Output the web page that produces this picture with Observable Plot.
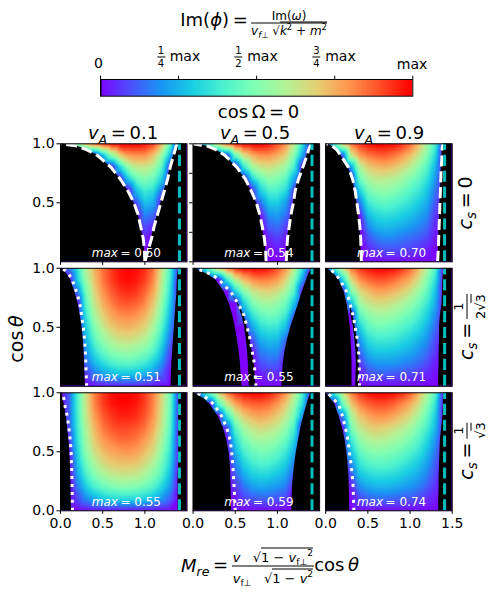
<!DOCTYPE html>
<html>
<head>
<meta charset="utf-8">
<script src="https://cdn.jsdelivr.net/npm/d3@7"></script>
<script src="https://cdn.jsdelivr.net/npm/@observablehq/plot@0.6"></script>
<style>
html,body{margin:0;padding:0;background:#fff;}
#page{position:relative;width:494px;height:595px;overflow:hidden;font-family:"DejaVu Sans",sans-serif;color:#000;}
#page svg{position:absolute;left:0;top:0;overflow:visible;font-family:"DejaVu Sans",sans-serif;}
.t{position:absolute;white-space:nowrap;line-height:1;transform:translate(-50%,-50%);}
.f{display:inline-flex;flex-direction:column;align-items:center;vertical-align:middle;line-height:1;}
.f>span:first-child{border-bottom:1px solid #000;padding:0 1px 1px;width:100%;text-align:center;box-sizing:border-box;}
.f>span:last-child{padding-top:1px;}
.r{border-top:1px solid #000;padding-top:1px;}
sub,sup{font-size:70%;line-height:0;}
</style>
</head>
<body>
<div id="page"></div>
<script>
// Axis samples
const gridX = [0,.1,.2,.3,.4,.5,.6,.7,.8,.9,1,1.1,1.2,1.3,1.4,1.5];
const gridY = [1,.9,.8,.7,.6,.5,.4,.3,.2,.1,0];
const cosLevels = [1,.98,.95,.9,.8,.7,.6,.5,.4,.3,.2,.1,0];
const vAValues = [0.1,0.5,0.9];
const csLabels = ["0","1/(2√3)","1/√3"];
const maxLabels = ["= 0.50","= 0.54","= 0.70","= 0.51","= 0.55","= 0.71","= 0.55","= 0.59","= 0.74"];

// Fraction of panel maximum (percent), columns follow gridX, rows follow gridY
const field00 = [
[0,30,55,72,85,93,98,100,100,100,98,92,75,45,0,0],
[0,0,0,0,0,25,50,68,78,80,80,72,55,25,0,0],
[0,0,0,0,0,0,0,30,52,62,63,58,42,5,0,0],
[0,0,0,0,0,0,0,0,28,45,50,46,30,0,0,0],
[0,0,0,0,0,0,0,0,0,27,38,34,14,0,0,0],
[0,0,0,0,0,0,0,0,0,10,28,24,0,0,0,0],
[0,0,0,0,0,0,0,0,0,0,18,14,0,0,0,0],
[0,0,0,0,0,0,0,0,0,0,10,5,0,0,0,0],
[0,0,0,0,0,0,0,0,0,0,4,0,0,0,0,0],
[0,0,0,0,0,0,0,0,0,0,1,0,0,0,0,0],
[0,0,0,0,0,0,0,0,0,0,0,0,0,0,0,0]];
const field01 = [
[0,25,48,68,85,95,99,100,100,97,90,80,62,35,3,0],
[0,0,0,0,5,45,65,75,80,80,76,68,50,22,0,0],
[0,0,0,0,0,0,35,55,63,65,62,55,38,0,0,0],
[0,0,0,0,0,0,0,30,45,52,50,43,22,0,0,0],
[0,0,0,0,0,0,0,5,30,40,40,33,5,0,0,0],
[0,0,0,0,0,0,0,0,15,30,30,22,0,0,0,0],
[0,0,0,0,0,0,0,0,3,20,22,15,0,0,0,0],
[0,0,0,0,0,0,0,0,0,12,15,8,0,0,0,0],
[0,0,0,0,0,0,0,0,0,5,8,3,0,0,0,0],
[0,0,0,0,0,0,0,0,0,1,3,0,0,0,0,0],
[0,0,0,0,0,0,0,0,0,0,0,0,0,0,0,0]];
const field02 = [
[0,40,68,85,93,98,100,100,99,95,87,74,58,40,0,0],
[0,0,10,62,78,84,87,88,85,80,73,63,50,32,0,0],
[0,0,0,20,58,69,73,74,72,67,61,52,42,25,0,0],
[0,0,0,0,45,58,62,62,60,56,50,44,35,20,0,0],
[0,0,0,0,30,47,52,53,51,47,42,37,29,15,0,0],
[0,0,0,0,15,37,42,44,42,39,35,30,24,11,0,0],
[0,0,0,0,3,27,33,35,34,31,28,24,19,7,0,0],
[0,0,0,0,0,18,25,27,26,24,21,18,14,5,0,0],
[0,0,0,0,0,10,16,18,18,16,14,12,9,3,0,0],
[0,0,0,0,0,4,8,10,10,9,8,6,4,1,0,0],
[0,0,0,0,0,1,1,1,1,1,1,1,1,0,0,0]];
const field10 = [
[0,15,35,60,75,85,93,98,100,99,95,85,65,40,5,0],
[0,0,30,55,72,84,92,97,99,97,92,82,62,38,0,0],
[0,0,15,48,68,80,88,93,95,93,87,77,58,34,0,0],
[0,0,0,42,63,75,83,88,89,87,82,71,53,30,0,0],
[0,0,0,36,57,69,77,81,82,80,75,65,48,25,0,0],
[0,0,0,30,50,62,70,74,75,73,68,58,42,20,0,0],
[0,0,0,25,43,54,61,65,66,64,60,50,35,15,0,0],
[0,0,0,20,35,45,52,55,56,54,50,42,28,9,0,0],
[0,0,0,14,26,34,40,43,44,42,38,31,20,5,0,0],
[0,0,0,7,15,21,25,28,28,27,24,20,12,2,0,0],
[0,0,0,0,2,3,4,4,5,4,4,3,2,0,0,0]];
const field11 = [
[0,25,48,68,84,94,99,100,100,97,90,80,62,35,3,0],
[0,0,0,0,35,60,73,80,83,82,78,68,50,20,0,0],
[0,0,0,0,0,30,50,62,67,68,65,57,40,0,0,0],
[0,0,0,0,0,0,30,48,55,57,54,46,27,0,0,0],
[0,0,0,0,0,0,15,35,44,47,45,37,12,0,0,0],
[0,0,0,0,0,0,0,22,34,37,36,27,0,0,0,0],
[0,0,0,0,0,0,0,10,25,28,27,15,0,0,0,0],
[0,0,0,0,0,0,0,3,17,20,20,7,0,0,0,0],
[0,0,0,0,0,0,0,0,10,13,12,0,0,0,0,0],
[0,0,0,0,0,0,0,0,4,6,5,0,0,0,0,0],
[0,0,0,0,0,0,0,0,0,1,1,0,0,0,0,0]];
const field12 = [
[0,38,65,84,93,98,100,100,99,94,87,75,59,41,2,0],
[0,0,30,66,80,86,89,89,86,81,75,65,51,34,1,0],
[0,0,0,48,66,73,77,77,74,70,64,55,44,28,0,0],
[0,0,0,25,55,63,66,66,63,59,54,47,37,24,0,0],
[0,0,0,0,42,52,56,56,54,50,46,39,31,18,0,0],
[0,0,0,0,30,43,47,47,45,42,38,33,25,14,0,0],
[0,0,0,0,20,34,38,38,37,34,31,26,20,10,0,0],
[0,0,0,0,13,26,30,30,29,27,24,20,15,7,0,0],
[0,0,0,0,7,17,21,21,21,19,17,14,10,4,0,0],
[0,0,0,0,3,9,11,12,11,10,9,7,5,2,0,0],
[0,0,0,0,0,1,1,1,1,1,1,1,0,0,0,0]];
const field20 = [
[0,12,40,65,83,93,98,100,100,98,93,83,68,48,5,0],
[0,12,40,64,82,92,97,99,99,97,92,82,67,47,5,0],
[0,12,39,62,78,88,93,96,96,94,89,80,65,45,4,0],
[0,10,37,59,74,84,89,91,91,89,85,76,62,43,3,0],
[0,5,35,56,70,79,83,86,86,84,79,71,58,39,2,0],
[0,2,31,52,65,73,77,79,80,78,73,66,53,36,2,0],
[0,0,27,46,58,66,70,72,72,71,66,59,47,32,2,0],
[0,0,22,39,50,57,61,63,63,62,58,51,41,27,1,0],
[0,0,16,30,39,45,49,51,51,50,46,41,32,21,1,0],
[0,0,9,18,24,29,32,33,33,32,30,26,20,12,0,0],
[0,0,0,1,2,2,2,2,2,2,2,2,2,1,0,0]];
const field21 = [
[0,25,48,68,84,94,99,100,100,97,90,80,63,40,3,0],
[0,0,0,40,62,76,84,87,87,85,79,70,55,32,0,0],
[0,0,0,0,35,58,70,75,77,75,70,62,47,20,0,0],
[0,0,0,0,8,42,57,64,67,65,61,53,39,0,0,0],
[0,0,0,0,3,32,47,55,57,56,52,45,31,0,0,0],
[0,0,0,0,0,25,39,46,49,48,44,37,24,0,0,0],
[0,0,0,0,0,18,31,38,41,40,36,30,17,0,0,0],
[0,0,0,0,0,12,23,30,32,31,28,23,10,0,0,0],
[0,0,0,0,0,7,15,21,23,22,20,16,3,0,0,0],
[0,0,0,0,0,3,8,11,12,12,10,8,0,0,0,0],
[0,0,0,0,0,1,1,1,1,1,1,1,0,0,0,0]];
const field22 = [
[0,38,64,83,93,98,100,100,99,95,88,75,60,42,2,0],
[0,0,45,70,82,87,90,90,87,82,76,66,52,35,1,0],
[0,0,15,57,71,77,80,80,77,72,66,57,45,30,0,0],
[0,0,2,48,62,68,70,69,66,62,57,49,39,26,0,0],
[0,0,0,36,53,59,61,60,57,54,49,42,33,20,0,0],
[0,0,0,27,44,50,52,51,49,46,41,36,27,16,0,0],
[0,0,0,18,36,41,43,43,41,38,34,29,22,12,0,0],
[0,0,0,10,28,32,34,34,33,30,27,23,17,9,0,0],
[0,0,0,4,18,23,25,25,24,22,20,17,12,6,0,0],
[0,0,0,1,9,12,14,14,13,12,11,9,6,3,0,0],
[0,0,0,0,1,1,1,1,1,1,1,1,1,1,0,0]];

// White dashed/dotted critical curves, following cosLevels
const curve00 = [0,.2,.31,.44,.6,.71,.8,.87,.92,.95,.98,.995,1];
const curve01 = [0,.17,.27,.38,.52,.62,.69,.75,.79,.82,.845,.86,.866];
const curve02 = [.01,.08,.13,.18,.27,.32,.35,.37,.39,.405,.415,.42,.423];
const curve10 = [0,.06,.1,.14,.19,.23,.25,.27,.285,.295,.3,.305,.31];
const curve11 = [.04,.1,.22,.31,.447,.535,.605,.64,.675,.7,.725,.735,.745];
const curve12 = [.03,.07,.12,.17,.25,.29,.325,.35,.375,.39,.397,.4,.4];
const curve20 = [.01,.02,.04,.05,.08,.1,.115,.126,.13,.135,.138,.14,.142];
const curve21 = [.03,.1,.17,.25,.34,.4,.44,.457,.47,.478,.487,.493,.5];
const curve22 = [.01,.05,.09,.154,.2,.235,.265,.28,.3,.315,.326,.33,.335];

// Right-hand dashed curves of the top row
const rightCurve00 = [1.39,1.37,1.36,1.34,1.3,1.27,1.23,1.19,1.15,1.11,1.08,1.04,1];
const rightCurve01 = [1.4,1.39,1.37,1.35,1.3,1.25,1.21,1.19,1.16,1.14,1.12,1.11,1.105];
const rightCurve02 = [1.39,1.385,1.38,1.38,1.37,1.365,1.36,1.355,1.35,1.345,1.34,1.335,1.327];

// Black region edges (no instability), following cosLevels
const leftEdge00 = curve00, leftEdge01 = curve01, leftEdge02 = curve02;
const leftEdge10 = [0,.04,.08,.12,.17,.21,.235,.255,.27,.28,.285,.29,.296];
const leftEdge11 = [.03,.08,.17,.27,.37,.43,.47,.5,.525,.545,.56,.57,.58];
const leftEdge12 = [.02,.05,.1,.16,.22,.253,.275,.292,.3,.308,.312,.312,.312];
const leftEdge20 = [.015,.025,.03,.045,.07,.085,.1,.11,.118,.122,.125,.128,.13];
const leftEdge21 = [.01,.06,.13,.2,.3,.36,.4,.425,.44,.447,.45,.453,.455];
const leftEdge22 = [0,.03,.06,.11,.16,.2,.23,.25,.265,.275,.28,.283,.285];
const rightEdge00 = rightCurve00, rightEdge01 = rightCurve01, rightEdge02 = rightCurve02;
const rightEdge10 = [1.4,1.395,1.39,1.385,1.38,1.37,1.36,1.35,1.34,1.33,1.32,1.315,1.31];
const rightEdge11 = [1.4,1.39,1.37,1.345,1.295,1.25,1.205,1.158,1.12,1.09,1.07,1.06,1.052];
const rightEdge12 = [1.4,1.4,1.395,1.39,1.385,1.38,1.36,1.35,1.35,1.345,1.345,1.34,1.34];
const rightEdge20 = [1.405,1.405,1.405,1.4,1.4,1.4,1.4,1.4,1.4,1.395,1.395,1.395,1.395];
const rightEdge21 = [1.4,1.385,1.37,1.35,1.31,1.277,1.25,1.225,1.205,1.19,1.178,1.172,1.17];
const rightEdge22 = [1.4,1.4,1.395,1.395,1.39,1.375,1.36,1.355,1.35,1.345,1.345,1.34,1.34];
// Start of the thin black sliver between the purple band and the dotted curve
const sliver11 = [null,null,null,null,.447,.525,.58,.61,.63,.645,.655,.66,.665];
const sliver12 = [null,null,null,null,null,.29,.3,.33,.345,.358,.364,.36,.356];

const cyanLine = [1.41];
const rainbowStops = [0,.1,.2,.3,.4,.5,.6,.7,.8,.9,1];
const rainbowHex = ["#8000ff","#4d4ffc","#1a96f3","#1acee3","#4df2ce","#80ffb4","#b3f296","#e6ce74","#ff964f","#ff4f28","#ff0000"];
const colorbarTicks = [0,.25,.5,.75,1];

const fields = [[field00,field01,field02],[field10,field11,field12],[field20,field21,field22]];
const curves = [[curve00,curve01,curve02],[curve10,curve11,curve12],[curve20,curve21,curve22]];
const lefts = [[leftEdge00,leftEdge01,leftEdge02],[leftEdge10,leftEdge11,leftEdge12],[leftEdge20,leftEdge21,leftEdge22]];
const rights = [[rightEdge00,rightEdge01,rightEdge02],[rightEdge10,rightEdge11,rightEdge12],[rightEdge20,rightEdge21,rightEdge22]];
const rightCurves = [rightCurve00,rightCurve01,rightCurve02];
const slivers = {"1,1":sliver11,"1,2":sliver12};

const cells=[], edges=[], rightLines=[], sliverRows=[];
for (let r=0;r<3;r++) for (let c=0;c<3;c++) {
  const col=vAValues[c], row=csLabels[r];
  fields[r][c].forEach((vals,i)=>vals.forEach((v,j)=>cells.push({x:gridX[j],y:gridY[i],v:v/100,col,row})));
  cosLevels.forEach((y,i)=>{
    edges.push({y,col,row,left:lefts[r][c][i],right:rights[r][c][i],curve:curves[r][c][i]});
    if (r===0) rightLines.push({y,col,row,x:rightCurves[c][i]});
    const s=slivers[r+","+c];
    if (s && s[i]!==null) sliverRows.push({y,col,row,start:s[i],end:curves[r][c][i]});
  });
}
const panels=[];
for (let r=0;r<3;r++) for (let c=0;c<3;c++) panels.push({col:vAValues[c],row:csLabels[r],txt:maxLabels[r*3+c]});
// the curves are stroked from cos θ = 0 upwards, so their dash patterns begin at the bottom
const dashed=edges.filter(d=>d.row==="0").reverse(), dotted=edges.filter(d=>d.row!=="0").reverse();
const rightLinesUp=[...rightLines].reverse();

const xTickRows=[], yTickRows=[], xLabels=[], yLabels=[];
vAValues.forEach((col,c)=>{
  (c===2?[0,.5,1,1.5]:[0,.5,1]).forEach(x=>{xTickRows.push({x,col,row:csLabels[2]});xLabels.push({x,col,row:csLabels[2],t:x.toFixed(1)});});
});
[0,.5,1].forEach(x=>xTickRows.push({x,col:.1,row:"0"}));
[0,1].forEach(x=>xTickRows.push({x,col:.5,row:"0"}));
csLabels.forEach((row,r)=>{
  (r===2?[0,.5,1]:[.5,1]).forEach(y=>{yTickRows.push({y,col:.1,row});yLabels.push({y,col:.1,row,t:y.toFixed(1)});});
});
[0,.25,.5,.75,1].forEach(y=>yTickRows.push({y,col:.5,row:"0"}));

const colorScale={type:"linear",domain:rainbowStops,range:rainbowHex,interpolate:"rgb",clamp:true};
const fc={fx:"col",fy:"row"};
const dashStyle={stroke:"white",strokeWidth:3,strokeDasharray:"11.1,4.8",strokeLinecap:"butt",clip:true};

const main=Plot.plot({
  width:494,height:595,marginLeft:60,marginRight:42.3,marginTop:143.3,marginBottom:84.7,
  style:{background:"transparent",fontFamily:"DejaVu Sans"},
  fx:{domain:vAValues,axis:null,paddingInner:.0457,paddingOuter:0,round:false},
  fy:{domain:csLabels,axis:null,paddingInner:.052,paddingOuter:0,round:false},
  x:{domain:[0,1.5],axis:null},
  y:{domain:[0,1],axis:null},
  color:colorScale,
  marks:[
    Plot.raster(cells,{x:"x",y:"y",fill:"v",interpolate:"barycentric",pixelSize:1,...fc}),
    Plot.areaX(edges,{x1:()=>0,x2:"left",y:"y",fill:"black",...fc,clip:true}),
    Plot.areaX(edges,{x1:"right",x2:()=>1.5,y:"y",fill:"black",...fc,clip:true}),
    Plot.areaX(sliverRows,{x1:"start",x2:"end",y:"y",fill:"black",...fc,clip:true}),
    Plot.line(dashed,{x:"curve",y:"y",...dashStyle,...fc}),
    Plot.line(rightLinesUp,{x:"x",y:"y",...dashStyle,...fc}),
    Plot.line(dotted,{x:"curve",y:"y",...dashStyle,strokeDasharray:"3,4.95",...fc}),
    ...panels.map(p=>Plot.ruleX(cyanLine,{x:d=>d,y1:()=>0,y2:()=>1,fx:()=>p.col,fy:()=>p.row,stroke:"#00bfbf",strokeWidth:3,strokeDasharray:"11.1,4.8",strokeLinecap:"butt"})),
    Plot.frame({stroke:"black",strokeWidth:1}),
    Plot.ruleX(xTickRows,{x:"x",y1:()=>0,y2:()=>-.03,stroke:"black",...fc}),
    Plot.ruleY(yTickRows,{y:"y",x1:()=>0,x2:()=>-.042,stroke:"black",...fc}),
    Plot.text(xLabels,{x:"x",y:()=>-.105,text:"t",fontSize:14,fill:"black",...fc}),
    Plot.text(yLabels,{y:"y",x:()=>-.07,text:"t",textAnchor:"end",fontSize:14,fill:"black",...fc}),
    Plot.text(panels,{x:()=>.68,y:()=>.075,text:()=>"max",fontStyle:"italic",textAnchor:"end",fontSize:12,fill:"white",...fc}),
    Plot.text(panels,{x:()=>.71,y:()=>.075,text:"txt",textAnchor:"start",fontSize:12,fill:"white",...fc})
  ]
});

const barValues=d3.range(0,.9901,.0025);
const bar=Plot.plot({
  width:494,height:110,marginLeft:100,marginRight:81.7,marginTop:79,marginBottom:14.3,
  style:{background:"transparent",fontFamily:"DejaVu Sans"},
  x:{domain:[0,1],axis:null},
  y:{domain:[0,1],axis:null},
  color:colorScale,
  marks:[
    Plot.rectY(barValues,{x1:d=>d,x2:d=>d+.01,y1:()=>0,y2:()=>1,fill:d=>d+.005}),
    Plot.rectY([0],{x1:()=>0,x2:()=>.005,y1:()=>0,y2:()=>1,fill:"black"}),
    Plot.frame({stroke:"black",strokeWidth:1}),
    Plot.ruleX(colorbarTicks,{x:d=>d,y1:()=>1,y2:()=>1.2,stroke:"black"})
  ]
});

const page=document.getElementById("page");
page.append(main,bar);
function put(html,x,y,size,extra){
  const e=document.createElement("div");
  e.className="t";e.innerHTML=html;
  e.style.left=x+"px";e.style.top=y+"px";e.style.fontSize=size+"px";
  if(extra) e.style.transform=extra;
  page.append(e);
}
const frac=(a,b)=>`<span class="f"><span>${a}</span><span>${b}</span></span>`;
const rot="translate(-50%,-50%) rotate(-90deg)";
const s13=t=>`<span style="font-size:13px">${t}</span>`;
// Title
put(`Im(<i>ϕ</i>)&thinsp;=`,214,20,18);
put(frac(`<span style="font-size:12px">Im(<i>ω</i>)</span>`,`<span style="font-size:12px"><i>v</i><sub><i>f</i>⊥</sub> √<span class="r"><i>k</i><sup>2</sup> + <i>m</i><sup>2</sup></span></span>`),289,23,12);
// Colorbar labels
put("0",98.5,63,14);
put(`<span class="f" style="font-size:10px"><span>1</span><span>4</span></span> max`,178.5,57,14);
put(`<span class="f" style="font-size:10px"><span>1</span><span>2</span></span> max`,256,57,14);
put(`<span class="f" style="font-size:10px"><span>3</span><span>4</span></span> max`,334,57,14);
put("max",412,64,14);
// Headings
put(`cos&thinsp;Ω&thinsp;=&thinsp;0`,258.5,112,18);
put(`<i>v<sub>A</sub></i>&thinsp;=&thinsp;0.1`,123,133,18);
put(`<i>v<sub>A</sub></i>&thinsp;=&thinsp;0.5`,255,133,18);
put(`<i>v<sub>A</sub></i>&thinsp;=&thinsp;0.9`,389,133,18);
// Row labels
put(`<i>c<sub>s</sub></i>&thinsp;=&thinsp;0`,465,203,19,rot);
put(`<i>c<sub>s</sub></i>&thinsp;=&thinsp;${frac(s13("1"),s13(`2√<span class="r">3</span>`))}`,467,327,19,rot);
put(`<i>c<sub>s</sub></i>&thinsp;=&thinsp;${frac(s13("1"),s13(`√<span class="r">3</span>`))}`,467,451,19,rot);
// Axis labels
put(`cos&thinsp;<i>θ</i>`,16,339,19,rot);
put(`<i>M<sub>re</sub></i>&thinsp;=&thinsp;${frac(s13(`<i>v</i> &nbsp; √<span class="r">1 − <i>v</i><sub>f⊥</sub><sup>2</sup></span>`),s13(`<i>v</i><sub>f⊥</sub> &nbsp; √<span class="r">1 − <i>v</i><sup>2</sup></span>`))}cos&thinsp;<i>θ</i>`,270,566,18);
</script>
</body>
</html>
